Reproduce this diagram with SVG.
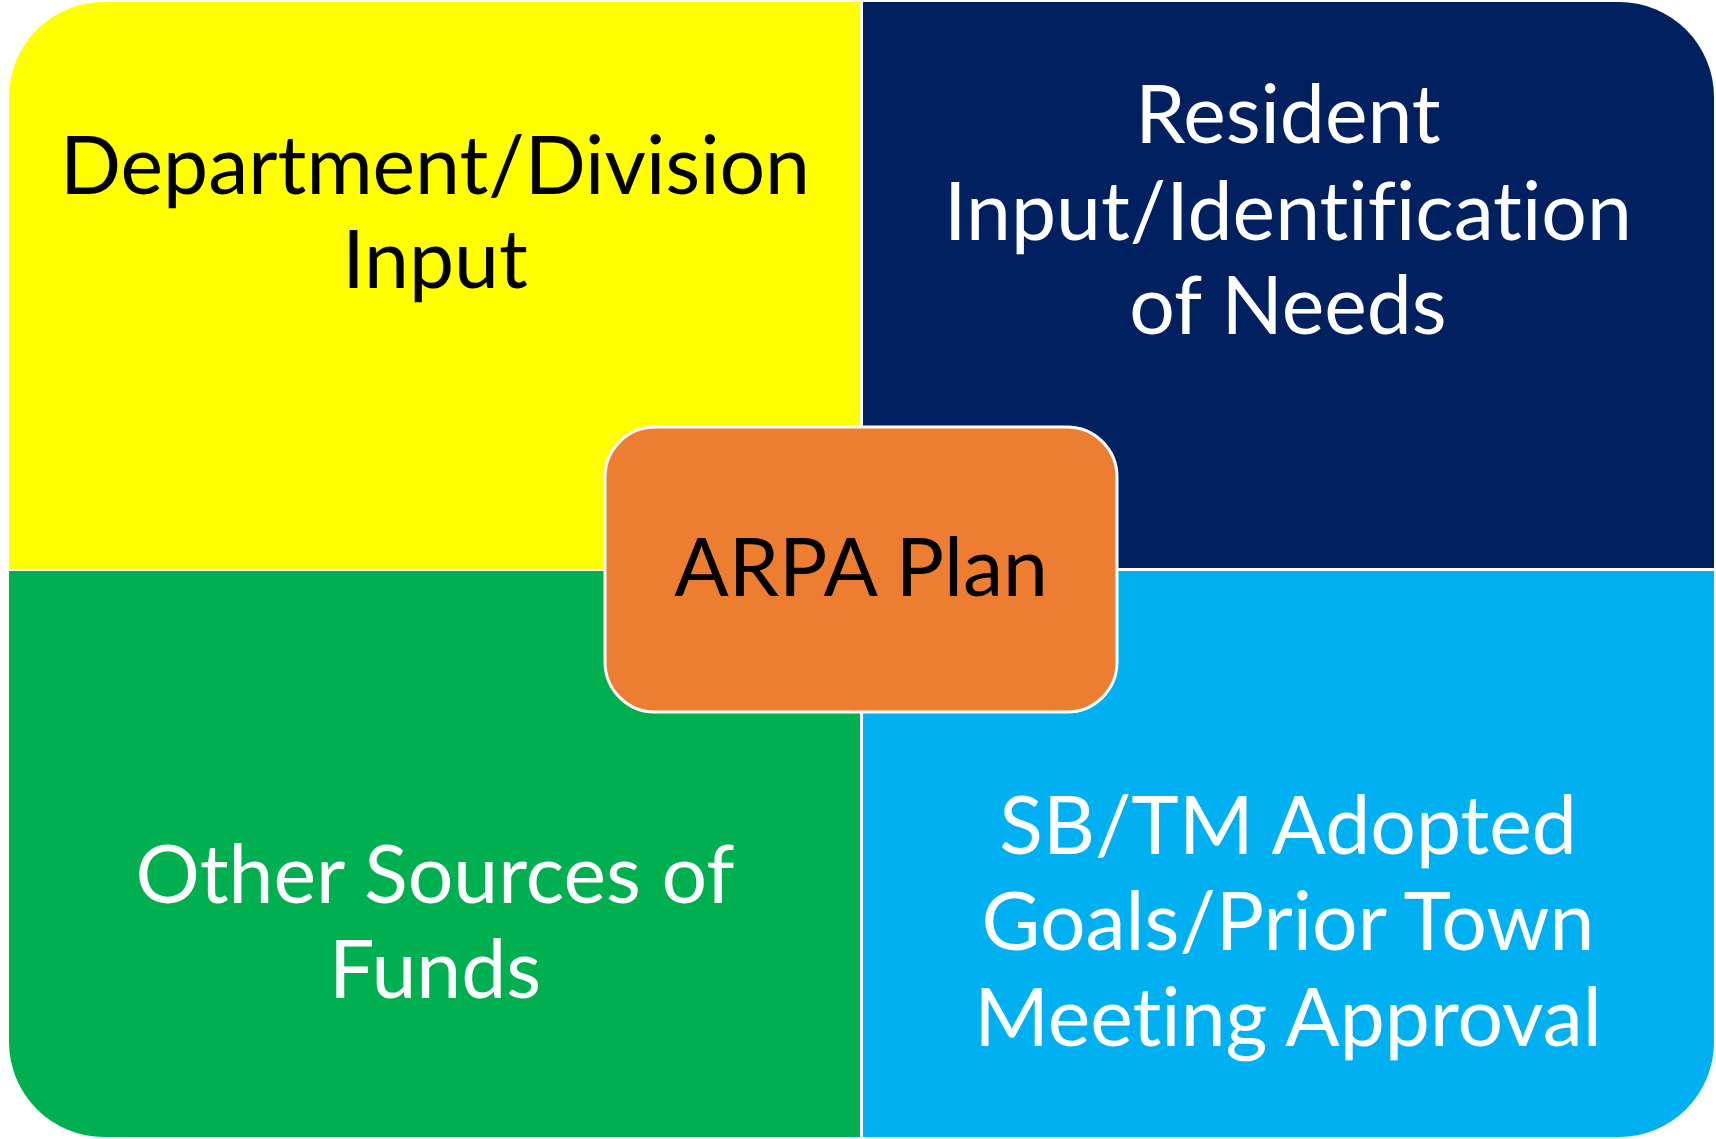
<svg xmlns="http://www.w3.org/2000/svg" width="1716" height="1139" viewBox="0 0 1716 1139">
<style>
.t{font-family:Lato,"Open Sans","Liberation Sans",sans-serif;font-size:80.5px;text-anchor:middle;font-variant-ligatures:none;font-feature-settings:"liga" 0}
.w{fill:#FFFFFF}
.b{fill:#000000}
</style>
<rect width="1716" height="1139" fill="#FFFFFF"/>
<g id="dept">
<path d="M9,97 A95,95 0 0 1 104,2 L860,2 L860,569 L9,569 Z" fill="#FFFF00"/>
<text class="t b" x="435" y="194">Department/Division</text>
<text class="t b" x="435" y="288">Input</text>
</g>
<g id="resident">
<path d="M863,2 L1619,2 A95,95 0 0 1 1714,97 L1714,568 L863,568 Z" fill="#002060"/>
<text class="t w" x="1288" y="143">Resident</text>
<text class="t w" x="1288" y="240">Input/Identification</text>
<text class="t w" x="1288" y="334">of Needs</text>
</g>
<g id="other">
<path d="M9,571 L860,571 L860,1137 L104,1137 A95,95 0 0 1 9,1042 Z" fill="#00B050"/>
<text class="t w" x="435" y="903">Other Sources of</text>
<text class="t w" x="435" y="998">Funds</text>
</g>
<g id="sbtm">
<path d="M863,571 L1714,571 L1714,1042 A95,95 0 0 1 1619,1137 L863,1137 Z" fill="#00B0F0"/>
<text class="t w" x="1288" y="854">SB/TM Adopted</text>
<text class="t w" x="1288" y="950">Goals/Prior Town</text>
<text class="t w" x="1288" y="1046">Meeting Approval</text>
</g>
<g id="arpa">
<rect x="605" y="427" width="512" height="285" rx="50" ry="50" fill="#ED7D31" stroke="#FFFFFF" stroke-width="3"/>
<text class="t b" x="861" y="596">ARPA Plan</text>
</g>
<g id="connectors"/>
</svg>
